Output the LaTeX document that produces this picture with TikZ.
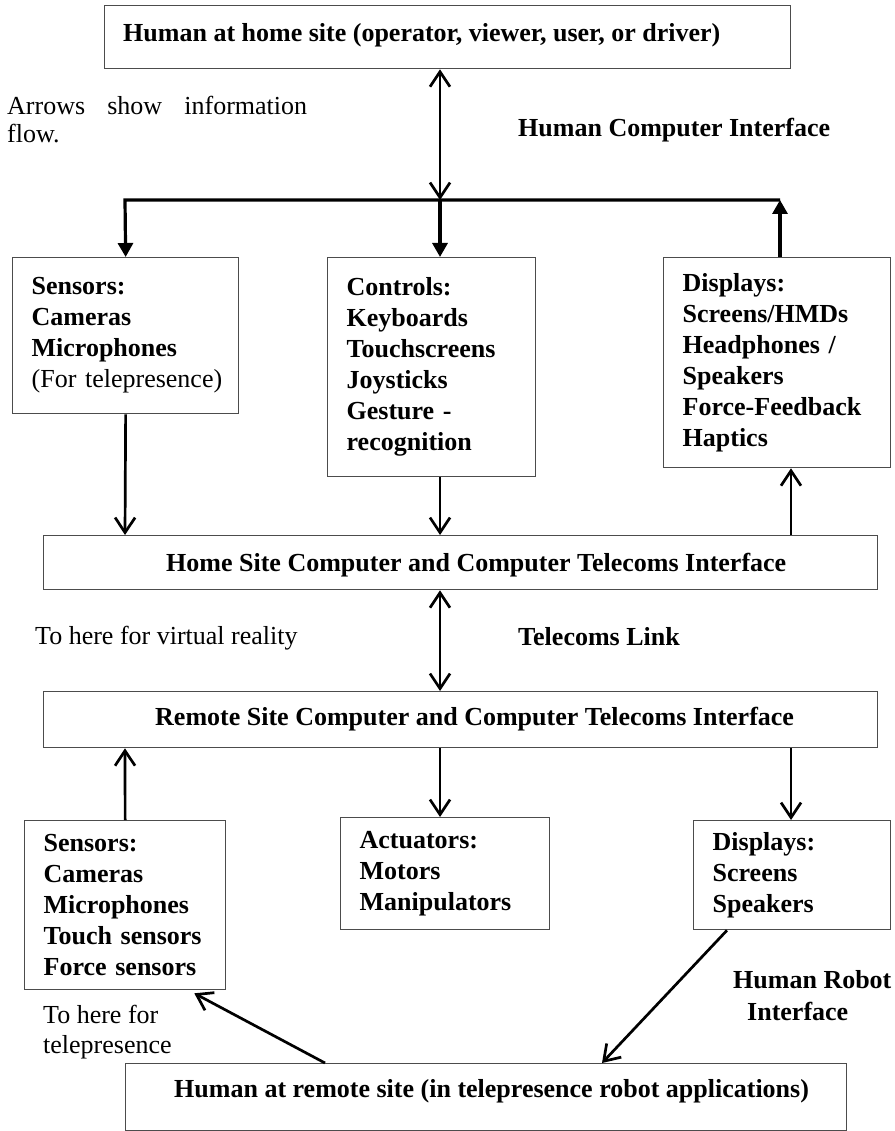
\documentclass[tikz,border=0pt]{standalone}
\usepackage{fontspec}
\setmainfont{Liberation Serif}
\usetikzlibrary{arrows.meta,calc,positioning}
\tikzset{
  site box/.style={draw=black!70,line width=1.3pt,anchor=north west,
    inner sep=0pt},
  part box/.style={draw=black!70,line width=1.3pt,anchor=north west,
    align=left,inner xsep=19pt,inner ysep=0pt,
    font=\fontsize{26}{31}\selectfont\bfseries},
  site text/.style={anchor=base west,inner sep=0pt,
    font=\fontsize{26}{31}\selectfont\bfseries},
  note text/.style={anchor=base west,inner sep=0pt,align=left,
    font=\fontsize{26}{30}\selectfont},
  info edge/.style={-{Straight Barb[length=15pt,width=20pt]},line width=2.7pt},
  both edge/.style={{Straight Barb[length=15pt,width=20pt]}-{Straight Barb[length=15pt,width=20pt]},
    line width=2.7pt},
  bus edge/.style={-{Triangle[length=14pt,width=15pt]},line width=3.2pt}
}
\begin{document}
\begin{tikzpicture}[x=1pt,y=-1pt]
    \useasboundingbox (0,0) rectangle (894,1131);
    \coordinate (colA) at (125,0);
    \coordinate (colB) at (440,0);
    \coordinate (colC) at (780,0);
    \coordinate (colD) at (791,0);
    \coordinate (busL) at (125,200);
    \coordinate (busM) at (440,200);
    \coordinate (busR) at (780,200);
    % home site
    \node[site box,minimum width=686pt,minimum height=63pt] (top) at (104,5) {};
    \node[site text] (topt) at (123,42)
      {Human at home site (operator, viewer, user, or driver)};
    \node[note text,text width=300pt,align=justify,font=\fontsize{26}{28}\selectfont]
      (note) at (7,115) {Arrows show information flow.};
    \node[site text] (hci) at (518,137) {Human Computer Interface};
    \node[part box,text width=188pt,minimum height=156pt] (sens) at (12,257)
      {Sensors:\\Cameras\\Microphones\\\mbox{\mdseries(For telepresence)}};
    \node[part box,text width=170pt,minimum height=219pt] (ctrl) at (327,257)
      {Controls:\\Keyboards\\Touchscreens\\Joysticks\\Gesture -\\recognition};
    \node[part box,text width=189pt,minimum height=210pt] (disp) at (663,257)
      {Displays:\\Screens/HMDs\\Headphones /\\Speakers\\Force-Feedback\\Haptics};
    \node[site box,minimum width=834pt,minimum height=54pt] (home) at (43,535) {};
    \node[site text] (homet) at (166,571)
      {Home Site Computer and Computer Telecoms Interface};
    % telecoms
    \node[note text] (vr) at (35,644) {To here for virtual reality};
    \node[site text] (link) at (518,645) {Telecoms Link};
    % remote site
    \node[site box,minimum width=834pt,minimum height=56pt] (remote) at (43,691) {};
    \node[site text] (remotet) at (155,725)
      {Remote Site Computer and Computer Telecoms Interface};
    \node[part box,text width=163pt,minimum height=169pt] (sens2) at (24,820)
      {Sensors:\\Cameras\\Microphones\\Touch sensors\\Force sensors};
    \node[part box,text width=171pt,minimum height=112pt] (act) at (340,817)
      {Actuators:\\Motors\\Manipulators};
    \node[part box,text width=159pt,minimum height=109pt] (disp2) at (693,820)
      {Displays:\\Screens\\Speakers};
    \node[note text] (tele) at (43,1053) {To here for\\telepresence};
    \node[site text,align=left,font=\fontsize{26}{32}\selectfont\bfseries]
      (hri) at (733,1020) {Human Robot\\\hspace*{14pt}Interface};
    \node[site box,minimum width=721pt,minimum height=67pt] (human) at (125,1063) {};
    \node[site text] (humant) at (174,1097)
      {Human at remote site (in telepresence robot applications)};
    % arrows
    \draw[bus edge] (busR) -- (busL) -- (sens.north);
    \draw[both edge] (colB |- top.south) -- (busM);
    \draw[bus edge] (busM) -- (busM |- ctrl.north);
    \draw[bus edge] (busR |- disp.north) -- (busR);
    \draw[info edge] (sens.south) -- (colA |- home.north);
    \draw[info edge] (colB |- ctrl.south) -- (colB |- home.north);
    \draw[info edge] (colD |- home.north) -- (colD |- disp.south);
    \draw[both edge] (colB |- home.south) -- (colB |- remote.north);
    \draw[info edge] (sens2.north) -- (colA |- remote.south);
    \draw[info edge] (colB |- remote.south) -- (colB |- act.north);
    \draw[info edge] (colD |- remote.south) -- (colD |- disp2.north);
    \draw[info edge] ($(human.north west)+(200,0)$) -- ($(sens2.south east)+(-32,3)$);
    \draw[info edge] ($(disp2.south west)+(34,0)$) -- ($(human.north west)+(477,0)$);
  \end{tikzpicture}
\end{document}
